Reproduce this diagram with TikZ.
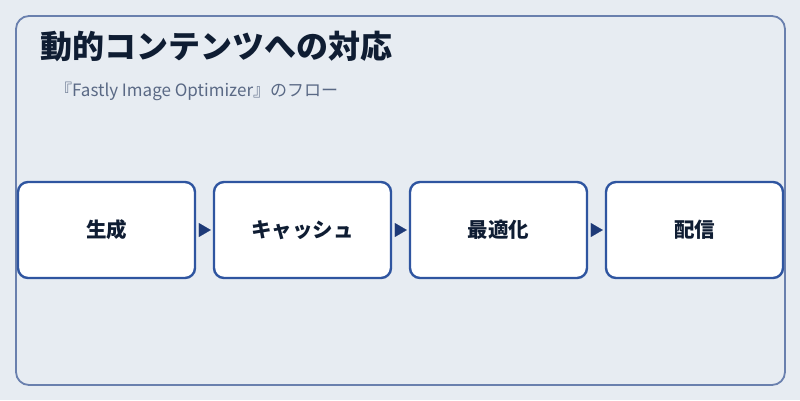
\documentclass[tikz,border=0pt]{standalone}
\usepackage{fontspec}
\setmainfont{Noto Sans CJK JP}
\usetikzlibrary{arrows.meta}
\definecolor{bgcol}{HTML}{E7ECF2}
\definecolor{framecol}{HTML}{6A80AE}
\definecolor{boxcol}{HTML}{2F55A0}
\definecolor{tipcol}{HTML}{1E3A78}
\definecolor{titlecol}{HTML}{0F1D33}
\definecolor{subcol}{HTML}{5A6985}
\tikzset{
  stage/.style={draw=boxcol, line width=2.4pt, fill=white, rounded corners=10pt,
    minimum width=177pt, minimum height=96pt, inner sep=0pt,
    font=\fontsize{20.5pt}{22pt}\selectfont\bfseries, text=titlecol},
  flow/.style={-{Triangle[length=12pt,width=14pt]}, draw=tipcol, fill=tipcol, line width=0.1pt, shorten >=2pt, shorten <=3pt}
}
\begin{document}
\begin{tikzpicture}[x=1pt,y=-1pt]
      \useasboundingbox[fill=bgcol] (0,0) rectangle (800,400);
      \draw[framecol, line width=1.8pt, rounded corners=13pt] (16,16) rectangle (785,385);
      \node[anchor=base west, text=titlecol, font=\fontsize{32pt}{34pt}\selectfont\bfseries, inner sep=0pt] (title) at (40,58) {動的コンテンツへの対応};
      \node[anchor=base west, text=subcol, font=\fontsize{17pt}{20pt}\selectfont, inner sep=0pt] (sub) at (55,96) {『Fastly Image Optimizer』のフロー};
      \draw
        (106.5,230) node[stage] (gen){生成}
        (302.5,230) node[stage] (cache){キャッシュ}
        (498.5,230) node[stage] (opt){最適化}
        (694.5,230) node[stage] (deliv){配信};
      \begin{scope}[flow]
        \draw (gen) to (cache);
        \draw (cache) to (opt);
        \draw (opt) to (deliv);
      \end{scope}
    \end{tikzpicture}
\end{document}
